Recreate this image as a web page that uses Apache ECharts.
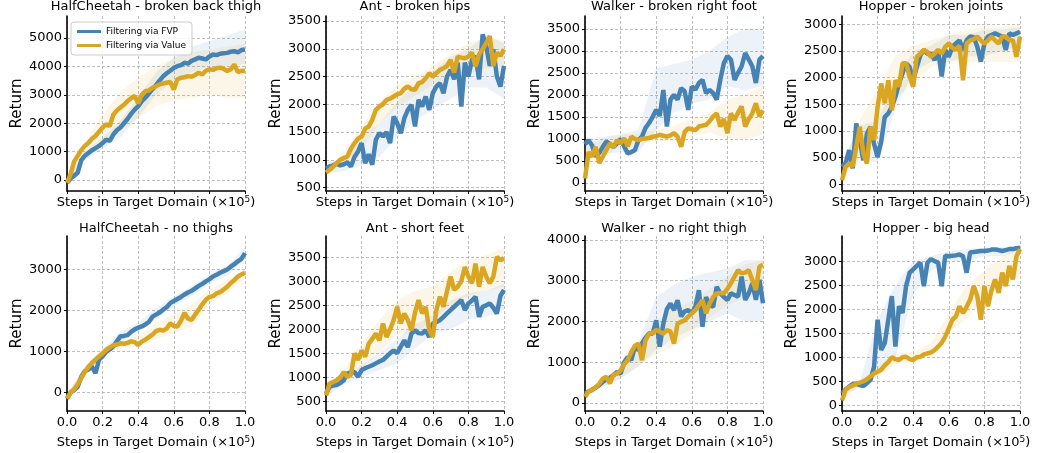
<!DOCTYPE html>
<html>
<head>
<meta charset="utf-8">
<script src="https://cdn.jsdelivr.net/npm/echarts@6/dist/echarts.min.js"></script>
<style>html,body{margin:0;padding:0;background:#fff}#main{width:1042px;height:453px}</style>
</head>
<body>
<div id="main"></div>
<script>
// steps in target domain (x1e5)
var steps = [0, 0.02, 0.04, 0.06, 0.08, 0.1, 0.12, 0.14, 0.16, 0.18,
  0.2, 0.22, 0.24, 0.26, 0.28, 0.3, 0.32, 0.34, 0.36, 0.38,
  0.4, 0.42, 0.44, 0.46, 0.48, 0.5, 0.52, 0.54, 0.56, 0.58,
  0.6, 0.62, 0.64, 0.66, 0.68, 0.7, 0.72, 0.74, 0.76, 0.78,
  0.8, 0.82, 0.84, 0.86, 0.88, 0.9, 0.92, 0.94, 0.96, 0.98, 1];
var bandSteps = [0, 0.1, 0.2, 0.3, 0.4, 0.5, 0.6, 0.7, 0.8, 0.9, 1];

var titles = ['HalfCheetah - broken back thigh', 'Ant - broken hips', 'Walker - broken right foot', 'Hopper - broken joints',
  'HalfCheetah - no thighs', 'Ant - short feet', 'Walker - no right thigh', 'Hopper - big head'];
var legendNames = ['Filtering via FVP', 'Filtering via Value'];

// y tick labels per panel
var p1Ticks = [0, 1000, 2000, 3000, 4000, 5000];
var p2Ticks = [500, 1000, 1500, 2000, 2500, 3000, 3500];
var p3Ticks = [0, 500, 1000, 1500, 2000, 2500, 3000, 3500];
var p4Ticks = [0, 500, 1000, 1500, 2000, 2500, 3000];
var p5Ticks = [0, 1000, 2000, 3000];
var p6Ticks = [500, 1000, 1500, 2000, 2500, 3000, 3500];
var p7Ticks = [0, 1000, 2000, 3000, 4000];
var p8Ticks = [0, 500, 1000, 1500, 2000, 2500, 3000];

// HalfCheetah - broken back thigh
var p1Fvp = [-100, 50, 150, 250, 700, 850, 950, 1050, 1120, 1200,
  1300, 1420, 1380, 1600, 1750, 1850, 2000, 2150, 2330, 2480,
  2600, 2780, 2900, 3050, 3200, 3340, 3500, 3650, 3760, 3850,
  3950, 4010, 4050, 4130, 4100, 4200, 4250, 4310, 4280, 4250,
  4350, 4420, 4400, 4450, 4470, 4480, 4520, 4540, 4500, 4580, 4600];
var p1Val = [-100, 200, 650, 850, 1050, 1200, 1300, 1450, 1550, 1700,
  1850, 1960, 1900, 2300, 2450, 2550, 2650, 2780, 2880, 2960,
  2700, 3000, 3130, 3150, 3250, 3300, 3370, 3400, 3430, 3450,
  3190, 3550, 3600, 3620, 3660, 3640, 3700, 3780, 3720, 3850,
  3900, 3880, 3940, 3960, 3920, 3840, 3900, 4070, 3800, 3850, 3840];
var p1FvpLo = [-200, 700, 1100, 1500, 2200, 3000, 3500, 3800, 4000, 4000, 4100];
var p1FvpHi = [0, 1000, 1500, 2100, 2900, 3800, 4300, 4700, 4900, 5100, 5300];
var p1ValLo = [-200, 700, 1200, 1700, 2200, 2600, 2800, 2900, 3000, 2900, 2900];
var p1ValHi = [0, 1300, 2300, 3100, 3600, 4000, 4300, 4500, 4600, 4700, 4800];

// Ant - broken hips
var p2Fvp = [840, 880, 900, 930, 900, 920, 950, 880, 1050, 1150,
  1300, 940, 1100, 910, 1360, 1480, 1420, 1500, 1300, 1780,
  1660, 1480, 1750, 1900, 1990, 1600, 2080, 1960, 2140, 1900,
  2200, 2320, 2380, 2200, 2500, 2620, 2450, 2750, 1960, 2750,
  2500, 2800, 2870, 2450, 3260, 3050, 2690, 2990, 2500, 2320, 2690];
var p2Val = [770, 820, 875, 940, 1000, 1030, 1060, 1200, 1300, 1380,
  1420, 1560, 1600, 1720, 1900, 1960, 2000, 2080, 2100, 2140,
  2180, 2200, 2280, 2320, 2270, 2260, 2380, 2400, 2470, 2560,
  2500, 2560, 2620, 2650, 2690, 2800, 2570, 2860, 2840, 2830,
  2860, 2930, 2680, 2900, 2990, 3100, 3230, 2690, 2930, 2870, 2990];
var p2FvpLo = [750, 800, 900, 1050, 1400, 1700, 1900, 2100, 2300, 2300, 2100];
var p2FvpHi = [950, 1000, 1450, 1650, 2050, 2350, 2600, 2850, 3000, 3250, 3100];
var p2ValLo = [720, 900, 1200, 1650, 1950, 2150, 2350, 2450, 2550, 2650, 2700];
var p2ValHi = [820, 1150, 1600, 2050, 2350, 2500, 2700, 2900, 3100, 3200, 3150];

// Walker - broken right foot
var p3Fvp = [880, 970, 850, 600, 680, 820, 940, 880, 820, 900,
  1000, 830, 670, 700, 740, 970, 1050, 1250, 1360, 1500,
  1660, 1520, 2110, 1280, 1890, 2000, 1890, 2150, 2080, 1660,
  2190, 2120, 2270, 2340, 2040, 2110, 2040, 1890, 2340, 2720,
  2880, 2800, 2340, 2500, 2650, 2950, 2800, 2650, 2270, 2800, 2880];
var p3Val = [100, 700, 600, 820, 450, 600, 750, 900, 820, 970,
  900, 1010, 830, 1050, 1000, 970, 1000, 1010, 1020, 1050,
  1060, 1090, 1070, 1050, 1080, 1130, 1050, 820, 1160, 1240,
  1220, 1200, 1280, 1300, 1320, 1400, 1510, 1580, 1280, 1450,
  1130, 1580, 1430, 1600, 1740, 1280, 1450, 1580, 1810, 1510, 1650];
var p3FvpLo = [500, 650, 700, 700, 1200, 1600, 1800, 1900, 2200, 2100, 2200];
var p3FvpHi = [1000, 1050, 1100, 1200, 2600, 2700, 2800, 3000, 3300, 3500, 3500];
var p3ValLo = [300, 550, 850, 900, 950, 950, 1050, 1150, 1000, 1000, 1100];
var p3ValHi = [800, 1000, 1100, 1100, 1200, 1300, 1450, 1600, 1900, 2000, 2200];

// Hopper - broken joints
var p4Fvp = [325, 390, 640, 300, 1140, 830, 450, 950, 1080, 760,
  510, 800, 1260, 1330, 1450, 1640, 1890, 2080, 2270, 2200,
  1950, 2200, 2420, 2520, 2450, 2450, 2330, 2520, 2020, 2520,
  2390, 2580, 2640, 2700, 2520, 2700, 2770, 2760, 2580, 2300,
  2640, 2770, 2800, 2830, 2800, 2770, 2520, 2830, 2800, 2830, 2860];
var p4Val = [75, 325, 390, 330, 700, 1080, 580, 390, 1080, 830,
  1450, 1890, 1520, 1950, 1390, 1950, 1830, 2270, 2270, 2020,
  1830, 2390, 2450, 2520, 2480, 2390, 2450, 2520, 2450, 2580,
  2640, 2560, 2520, 2600, 1950, 2640, 2700, 2720, 2770, 2700,
  2640, 2700, 2770, 2700, 2640, 2770, 2770, 2700, 2700, 2390, 2770];
var p4FvpLo = [200, 500, 400, 1400, 2100, 2300, 2300, 2400, 2400, 2500, 2600];
var p4FvpHi = [400, 1100, 1200, 1900, 2500, 2600, 2800, 2800, 2900, 2900, 2950];
var p4ValLo = [100, 400, 1000, 1600, 1900, 2200, 2300, 2300, 2300, 2300, 2300];
var p4ValHi = [400, 1200, 1800, 2400, 2600, 2700, 2800, 2900, 2950, 2950, 3000];

// HalfCheetah - no thighs
var p5Fvp = [-150, 0, 60, 140, 380, 520, 560, 630, 470, 800,
  880, 990, 1050, 1120, 1250, 1370, 1380, 1400, 1480, 1540,
  1580, 1610, 1660, 1720, 1850, 1900, 1950, 2020, 2080, 2180,
  2230, 2280, 2330, 2390, 2440, 2480, 2540, 2600, 2650, 2710,
  2760, 2830, 2870, 2920, 2960, 3000, 3070, 3130, 3200, 3260, 3400];
var p5Val = [-150, 0, 80, 200, 350, 500, 620, 720, 800, 880,
  950, 1040, 1100, 1150, 1170, 1200, 1190, 1210, 1250, 1230,
  1160, 1240, 1290, 1350, 1410, 1500, 1530, 1510, 1560, 1690,
  1620, 1610, 1750, 1940, 1800, 1770, 1900, 2020, 2150, 2260,
  2330, 2350, 2420, 2450, 2510, 2580, 2670, 2740, 2830, 2880, 2920];
var p5FvpLo = [-200, 450, 850, 1250, 1500, 1800, 2100, 2350, 2650, 2850, 3250];
var p5FvpHi = [-50, 650, 1050, 1480, 1700, 2050, 2350, 2600, 2880, 3100, 3550];
var p5ValLo = [-200, 430, 850, 1100, 1100, 1300, 1450, 1600, 2150, 2400, 2800];
var p5ValHi = [-50, 600, 1050, 1300, 1400, 1700, 1900, 2150, 2500, 2750, 3000];

// Ant - short feet
var p6Fvp = [660, 800, 830, 840, 880, 940, 1080, 1100, 1110, 1010,
  1150, 1190, 1220, 1250, 1290, 1330, 1360, 1430, 1500, 1560,
  1500, 1640, 1770, 1630, 1910, 1980, 1920, 1910, 1980, 1840,
  2120, 2150, 2190, 2260, 2330, 2400, 2470, 2540, 2610, 2400,
  2540, 2600, 2680, 2260, 2470, 2500, 2540, 2450, 2330, 2700, 2820];
var p6Val = [620, 870, 900, 940, 1000, 1110, 1010, 1050, 1500, 1360,
  1560, 1430, 1700, 1800, 1910, 1770, 2120, 1840, 2000, 2190,
  2470, 2120, 2330, 2190, 1980, 2350, 2610, 2330, 2470, 1980,
  1840, 2400, 2680, 2470, 2800, 3100, 2820, 2890, 3000, 3300,
  3100, 2960, 3370, 2890, 3300, 3100, 2960, 3100, 3510, 3440, 3480];
var p6FvpLo = [600, 850, 1000, 1150, 1300, 1600, 1900, 2000, 2200, 2250, 2400];
var p6FvpHi = [750, 1000, 1250, 1500, 1800, 2100, 2300, 2600, 2750, 2800, 2950];
var p6ValLo = [600, 900, 1200, 1500, 1900, 1900, 2200, 2500, 2700, 2800, 2900];
var p6ValHi = [750, 1150, 1700, 2200, 2600, 2800, 2900, 3200, 3450, 3550, 3700];

// Walker - no right thigh
var p7Fvp = [230, 280, 320, 380, 440, 520, 580, 620, 680, 760,
  720, 1000, 1130, 1050, 1370, 1300, 1460, 1600, 1710, 1700,
  2030, 1380, 1950, 2300, 2440, 2280, 2520, 2120, 2250, 2280,
  2200, 2360, 2770, 1870, 2600, 2400, 2360, 2850, 2690, 2600,
  2530, 2690, 2650, 2610, 3100, 2530, 2690, 2940, 2530, 3020, 2450];
var p7Val = [150, 280, 330, 390, 470, 600, 640, 480, 700, 720,
  800, 950, 1050, 1250, 1400, 1460, 1050, 1540, 1700, 1720,
  1790, 1750, 1700, 1790, 1750, 1460, 1950, 1990, 2030, 2120,
  2200, 2280, 2400, 2530, 2200, 2440, 2600, 2690, 2700, 2690,
  2800, 2940, 3100, 3260, 3180, 3200, 3260, 3020, 2770, 3350, 3390];
var p7FvpLo = [150, 400, 600, 900, 1300, 1600, 1800, 2000, 2200, 2000, 2000];
var p7FvpHi = [300, 550, 900, 1500, 2600, 2900, 3100, 3200, 3300, 3500, 3500];
var p7ValLo = [100, 400, 600, 900, 1200, 1400, 1700, 2100, 2400, 2600, 2800];
var p7ValHi = [250, 600, 850, 1500, 2000, 2300, 2500, 2800, 3100, 3400, 3500];

// Hopper - big head
var p8Fvp = [240, 330, 390, 440, 450, 420, 400, 460, 530, 800,
  1780, 1150, 1290, 1780, 2270, 1220, 2060, 1920, 2480, 2760,
  2830, 2900, 2970, 2480, 2970, 3040, 3000, 2970, 2480, 3110,
  3100, 3110, 3120, 3140, 3100, 2760, 3180, 3190, 3200, 3210,
  3210, 3220, 3240, 3240, 3230, 3210, 3230, 3250, 3250, 3270, 3280];
var p8Val = [100, 320, 380, 410, 450, 470, 500, 540, 600, 660,
  700, 740, 830, 900, 1000, 960, 940, 1000, 1010, 960,
  940, 1000, 1010, 1060, 1080, 1100, 1150, 1220, 1300, 1430,
  1600, 1780, 1850, 2060, 1920, 2050, 2200, 2480, 2270, 1780,
  2480, 2060, 2400, 2620, 2340, 2760, 2480, 2900, 2620, 3100, 3250];
var p8FvpLo = [200, 380, 600, 1000, 2300, 2800, 3000, 3000, 3100, 3100, 3200];
var p8FvpHi = [300, 480, 1800, 2500, 3000, 3100, 3200, 3250, 3280, 3300, 3320];
var p8ValLo = [100, 400, 600, 850, 900, 1000, 1500, 1800, 2200, 2500, 2700];
var p8ValHi = [350, 500, 800, 1100, 1100, 1300, 1900, 2500, 2800, 3100, 3300];

var panels = [
  {fvp: p1Fvp, val: p1Val, fvpLo: p1FvpLo, fvpHi: p1FvpHi, valLo: p1ValLo, valHi: p1ValHi, ticks: p1Ticks, min: -390, max: 5780},
  {fvp: p2Fvp, val: p2Val, fvpLo: p2FvpLo, fvpHi: p2FvpHi, valLo: p2ValLo, valHi: p2ValHi, ticks: p2Ticks, min: 438, max: 3590},
  {fvp: p3Fvp, val: p3Val, fvpLo: p3FvpLo, fvpHi: p3FvpHi, valLo: p3ValLo, valHi: p3ValHi, ticks: p3Ticks, min: -183, max: 3790},
  {fvp: p4Fvp, val: p4Val, fvpLo: p4FvpLo, fvpHi: p4FvpHi, valLo: p4ValLo, valHi: p4ValHi, ticks: p4Ticks, min: -126, max: 3156},
  {fvp: p5Fvp, val: p5Val, fvpLo: p5FvpLo, fvpHi: p5FvpHi, valLo: p5ValLo, valHi: p5ValHi, ticks: p5Ticks, min: -451, max: 3817},
  {fvp: p6Fvp, val: p6Val, fvpLo: p6FvpLo, fvpHi: p6FvpHi, valLo: p6ValLo, valHi: p6ValHi, ticks: p6Ticks, min: 297, max: 3945},
  {fvp: p7Fvp, val: p7Val, fvpLo: p7FvpLo, fvpHi: p7FvpHi, valLo: p7ValLo, valHi: p7ValHi, ticks: p7Ticks, min: -197, max: 4098},
  {fvp: p8Fvp, val: p8Val, fvpLo: p8FvpLo, fvpHi: p8FvpHi, valLo: p8ValLo, valHi: p8ValHi, ticks: p8Ticks, min: -119, max: 3523}
];

var BLUE = '#4682b4', GOLD = '#daa520';
var FONT = 'DejaVu Sans';
var colLeft = [67, 326, 585, 842];
var rowTop = [16, 236];
var plotW = 178, plotH = 175;

function pairs(xs, ys) {
  return xs.map(function (x, k) { return [x, ys[k]]; });
}

// shaded band between lo and hi, drawn once as a polygon through the axis scales
function band(i, lo, hi, color) {
  return {
    type: 'custom', xAxisIndex: i, yAxisIndex: i, silent: true, z: 1, clip: true,
    data: bandSteps.map(function (x, k) { return [x, lo[k], hi[k]]; }),
    encode: {x: 0, y: [1, 2]},
    renderItem: function (params, api) {
      if (params.dataIndex !== 0) return null;
      var upper = [], lower = [];
      bandSteps.forEach(function (x, k) {
        upper.push(api.coord([x, hi[k]]));
        lower.unshift(api.coord([x, lo[k]]));
      });
      return {type: 'polygon', shape: {points: upper.concat(lower)}, style: {fill: color}};
    }
  };
}

var grids = [], xAxes = [], yAxes = [], bands = [], lines = [], graphics = [];

panels.forEach(function (p, i) {
  var row = Math.floor(i / 4), col = i % 4;
  grids.push({left: colLeft[col], top: rowTop[row], width: plotW, height: plotH});

  xAxes.push({
    gridIndex: i, type: 'value', min: 0, max: 1, interval: 0.2,
    axisLine: {onZero: false, lineStyle: {color: '#000', width: 1.6}},
    axisTick: {show: true, length: 3, lineStyle: {color: '#000'}},
    axisLabel: {show: row === 1, margin: 5, fontSize: 13, color: '#000', fontFamily: FONT,
      formatter: function (v) { return v.toFixed(1); }},
    splitLine: {show: true, lineStyle: {type: [3, 2], color: '#b0b0b0', width: 0.8}},
    name: 'Steps in Target Domain (×10{sup|5})',
    nameLocation: 'middle', nameGap: row === 1 ? 24 : 4,
    nameTextStyle: {fontSize: 13, color: '#000', fontFamily: FONT, verticalAlign: 'top',
      rich: {sup: {fontSize: 9, fontFamily: FONT, color: '#000', verticalAlign: 'top', padding: [0, 0, 6, 0]}}}
  });

  yAxes.push({
    gridIndex: i, type: 'value', min: p.min, max: p.max,
    axisLine: {show: true, onZero: false, lineStyle: {color: '#000', width: 1.6}},
    axisTick: {show: true, length: 3, customValues: p.ticks, lineStyle: {color: '#000'}},
    axisLabel: {customValues: p.ticks, margin: 5, fontSize: 13, color: '#000', fontFamily: FONT,
      formatter: function (v) { return String(v); }},
    splitLine: {show: true, lineStyle: {type: [3, 2], color: '#b0b0b0', width: 0.8}},
    name: 'Return', nameLocation: 'middle', nameGap: 38,
    nameTextStyle: {fontSize: 15, color: '#000', fontFamily: FONT}
  });

  bands.push(band(i, p.fvpLo, p.fvpHi, 'rgba(70,130,180,0.10)'));
  bands.push(band(i, p.valLo, p.valHi, 'rgba(218,165,32,0.10)'));

  lines.push({
    name: legendNames[0], type: 'line', xAxisIndex: i, yAxisIndex: i, z: 3,
    data: pairs(steps, p.fvp), symbol: 'none', color: BLUE,
    lineStyle: {color: BLUE, width: 4.5}
  });
  lines.push({
    name: legendNames[1], type: 'line', xAxisIndex: i, yAxisIndex: i, z: 3,
    data: pairs(steps, p.val), symbol: 'none', color: GOLD,
    lineStyle: {color: GOLD, width: 4.5}
  });

  graphics.push({
    type: 'text', x: colLeft[col] + plotW / 2, y: row === 0 ? 0 : 222,
    style: {text: titles[i], textAlign: 'center', fontSize: 13, fontFamily: FONT, fill: '#000'}
  });
});

var chart = echarts.init(document.getElementById('main'));
chart.setOption({
  animation: false,
  backgroundColor: '#fff',
  grid: grids,
  xAxis: xAxes,
  yAxis: yAxes,
  legend: {
    data: legendNames, orient: 'vertical', left: 71, top: 22,
    icon: 'rect', itemWidth: 24, itemHeight: 3, itemGap: 5,
    padding: [5, 6], borderColor: '#ccc', borderWidth: 1, borderRadius: 3,
    backgroundColor: 'rgba(255,255,255,0.8)',
    textStyle: {fontSize: 9, fontFamily: FONT, color: '#000'}
  },
  graphic: graphics,
  series: bands.concat(lines)
});
</script>
</body>
</html>
